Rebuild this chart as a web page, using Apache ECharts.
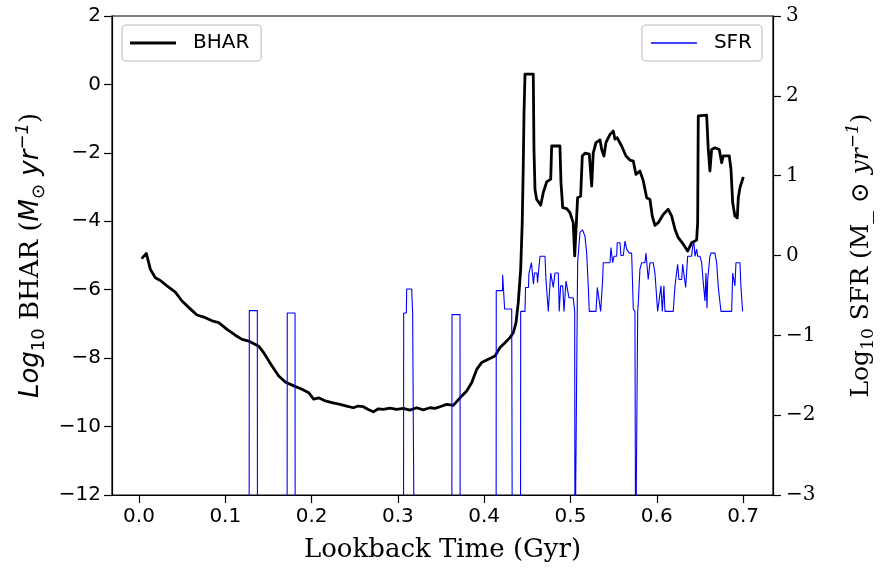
<!DOCTYPE html>
<html>
<head>
<meta charset="utf-8">
<script src="https://cdn.jsdelivr.net/npm/echarts@6/dist/echarts.min.js"></script>
<style>
html,body{margin:0;padding:0;background:#fff;}
#chart{width:880px;height:570px;}
</style>
</head>
<body>
<div id="chart"></div>
<script>
// ---- data ----
const xTickValues = [0.0, 0.1, 0.2, 0.3, 0.4, 0.5, 0.6, 0.7];

const bharTime = [0.003,0.0085,0.0131,0.0189,0.0247,0.0324,0.0421,0.0498,0.0594,0.0672,0.075,0.0846,0.0924,0.102,0.1116,0.1194,0.1271,0.1387,0.1445,0.1541,0.1619,0.1695,0.1793,0.1889,0.1966,0.2024,0.2082,0.2159,0.2236,0.2329,0.2406,0.2483,0.2541,0.2599,0.2657,0.2715,0.2773,0.2831,0.2908,0.2986,0.3063,0.314,0.3217,0.3294,0.3372,0.343,0.3488,0.3565,0.3642,0.372,0.3797,0.3855,0.3913,0.3971,0.4048,0.4125,0.4183,0.4241,0.4299,0.4337,0.4369,0.4395,0.4423,0.4441,0.4453,0.4461,0.4473,0.4569,0.4577,0.4589,0.4608,0.4655,0.4685,0.4724,0.4771,0.4782,0.4878,0.489,0.491,0.4956,0.4994,0.5032,0.5049,0.5072,0.5083,0.5118,0.5137,0.5168,0.5218,0.5246,0.5264,0.5296,0.5342,0.5362,0.5388,0.5411,0.5458,0.5496,0.5516,0.5542,0.5593,0.5643,0.5689,0.5728,0.5759,0.5805,0.5844,0.5883,0.5921,0.5948,0.5979,0.6017,0.6075,0.6133,0.6173,0.6211,0.6249,0.6307,0.6358,0.6404,0.6462,0.6474,0.6481,0.6578,0.6597,0.6616,0.6636,0.6674,0.6724,0.6752,0.6771,0.684,0.686,0.688,0.6906,0.6933,0.6945,0.6964,0.7003];
const bharValue = [-5.09,-4.94,-5.40,-5.65,-5.73,-5.89,-6.07,-6.33,-6.56,-6.74,-6.80,-6.91,-6.96,-7.16,-7.33,-7.45,-7.50,-7.65,-7.84,-8.23,-8.52,-8.70,-8.81,-8.91,-9.01,-9.20,-9.16,-9.25,-9.30,-9.35,-9.40,-9.45,-9.40,-9.42,-9.50,-9.57,-9.48,-9.50,-9.46,-9.50,-9.47,-9.52,-9.45,-9.51,-9.45,-9.47,-9.42,-9.35,-9.38,-9.16,-8.96,-8.72,-8.33,-8.13,-8.03,-7.94,-7.69,-7.55,-7.40,-7.26,-6.96,-6.38,-5.40,-4.04,-2.38,-0.92,0.30,0.30,-1.90,-3.07,-3.36,-3.53,-3.16,-2.85,-2.77,-1.80,-1.80,-2.87,-3.60,-3.63,-3.75,-4.04,-5.01,-3.85,-3.31,-3.26,-2.09,-2.01,-2.04,-2.97,-2.00,-1.70,-1.62,-1.90,-2.09,-1.70,-1.46,-1.36,-1.60,-1.56,-1.80,-2.09,-2.21,-2.24,-2.63,-2.53,-2.82,-3.31,-3.36,-3.85,-4.12,-4.04,-3.80,-3.65,-3.85,-4.23,-4.48,-4.67,-4.87,-4.63,-4.55,-4.04,-0.92,-0.90,-1.90,-2.53,-1.90,-1.85,-1.90,-2.29,-2.09,-2.09,-2.48,-3.46,-3.85,-3.90,-3.31,-3.02,-2.70];

// SFR: -4 marks values below the bottom of the right axis (drawn clipped)
const sfrTime = [0.003,0.1276,0.1278,0.1371,0.1373,0.1716,0.1718,0.1808,0.181,0.3065,0.3067,0.3098,0.3102,0.316,0.3171,0.3188,0.319,0.3625,0.3627,0.372,0.3722,0.4138,0.414,0.4212,0.4214,0.4226,0.4237,0.4319,0.4326,0.4421,0.4423,0.4473,0.4479,0.4513,0.4519,0.4542,0.4548,0.4565,0.4571,0.4583,0.4612,0.4618,0.4641,0.4647,0.4705,0.4716,0.4743,0.4771,0.4789,0.4801,0.482,0.4859,0.487,0.4886,0.491,0.4925,0.4948,0.4968,0.4983,0.5032,0.5049,0.5052,0.507,0.5083,0.511,0.5141,0.5168,0.5188,0.5206,0.5218,0.5296,0.5311,0.5334,0.535,0.5373,0.538,0.5458,0.5469,0.5489,0.5504,0.5535,0.5542,0.5574,0.5585,0.5612,0.5632,0.5651,0.567,0.5681,0.5709,0.5728,0.5747,0.5755,0.5777,0.5779,0.5786,0.5805,0.5825,0.5863,0.5875,0.589,0.5901,0.5921,0.5959,0.5979,0.5999,0.601,0.6029,0.6049,0.6064,0.6083,0.6095,0.6191,0.6211,0.6231,0.6242,0.6257,0.6289,0.63,0.6319,0.6335,0.6346,0.6358,0.6404,0.6416,0.6431,0.6443,0.6462,0.6474,0.6501,0.652,0.6539,0.655,0.6559,0.657,0.6582,0.659,0.6608,0.6616,0.6628,0.6674,0.6694,0.6713,0.6732,0.6744,0.6868,0.688,0.6898,0.6906,0.6918,0.6964,0.6976,0.6995];
const sfrValue = [-4,-4,-0.69,-0.69,-4,-4,-0.72,-0.72,-4,-4,-0.72,-0.72,-0.42,-0.42,-0.72,-0.72,-4,-4,-0.74,-0.74,-4,-4,-0.44,-0.44,-0.24,-0.24,-0.67,-0.67,-4,-4,-0.70,-0.70,-0.40,-0.40,-0.22,-0.22,-0.09,-0.09,-0.36,-0.22,-0.22,-0.34,-0.34,-0.01,-0.01,-0.30,-0.70,-0.22,-0.22,-0.40,-0.22,-0.22,-0.70,-0.38,-0.38,-0.70,-0.32,-0.32,-0.53,-0.53,-0.70,-4,-4,-0.09,0.29,0.32,0.24,0.03,-0.38,-0.70,-0.70,-0.40,-0.40,-0.70,-0.30,-0.09,-0.09,0.10,-0.09,-0.01,-0.01,0.16,0.16,0.00,0.00,0.18,0.08,0.10,0.03,0.03,-0.67,-0.70,-4,-4,-0.70,-0.59,-0.17,-0.09,-0.09,0.03,0.03,-0.30,-0.09,-0.09,-0.22,-0.22,-0.70,-0.70,-0.38,-0.70,-0.38,-0.70,-0.70,-0.38,-0.38,-0.11,-0.30,-0.30,-0.11,-0.11,-0.40,-0.40,-0.01,-0.01,0.12,0.16,-0.01,0.08,-0.01,-0.01,-0.09,-0.34,-0.34,-0.57,-0.22,-0.66,-0.30,-0.30,-0.01,0.03,0.03,-0.09,-0.40,-0.40,-0.70,-0.70,-0.22,-0.22,-0.38,-0.09,-0.09,-0.40,-0.70];

const zip = (a, b) => a.map((v, i) => [v, b[i]]);
const minus = v => (v < 0 ? '\u2212' + Math.abs(v) : String(v));

const chart = echarts.init(document.getElementById('chart'), null, {renderer: 'canvas'});

const SANS = 'DejaVu Sans';
const SERIF = 'DejaVu Serif';

chart.setOption({
  animation: false,
  backgroundColor: '#ffffff',
  grid: {left: 112, right: 107, top: 16, bottom: 75, containLabel: false, outerBoundsMode: 'none',
         show: true, borderColor: '#000', borderWidth: 1.2, backgroundColor: 'transparent'},
  legend: [
    {
      data: ['BHAR'], left: 122, top: 25, orient: 'horizontal',
      padding: [8, 12, 8, 8], itemWidth: 46, itemHeight: 3, icon: 'rect',
      borderColor: '#d0d0d0', borderWidth: 1.5, borderRadius: 4, backgroundColor: '#fff',
      textStyle: {fontFamily: SANS, fontSize: 20, color: '#000', padding: [0, 0, 0, 12]},
      selectedMode: false
    },
    {
      data: ['SFR'], right: 118, top: 25, orient: 'horizontal',
      padding: [8, 10, 8, 9], itemWidth: 46, itemHeight: 1.3, icon: 'rect',
      borderColor: '#d0d0d0', borderWidth: 1.5, borderRadius: 4, backgroundColor: '#fff',
      textStyle: {fontFamily: SANS, fontSize: 20, color: '#000', padding: [0, 0, 0, 12]},
      selectedMode: false
    }
  ],
  xAxis: {
    type: 'value', min: -0.0313, max: 0.7347,
    name: 'Lookback Time (Gyr)', nameLocation: 'middle', nameGap: 42,
    nameTextStyle: {fontFamily: SERIF, fontSize: 26, color: '#000'},
    axisLine: {show: true, onZero: false, lineStyle: {color: '#000', width: 1.2}},
    axisTick: {show: true, length: 8, inside: false, customValues: xTickValues, lineStyle: {color: '#000', width: 1.2}},
    axisLabel: {customValues: xTickValues, formatter: v => v.toFixed(1), fontFamily: SANS, fontSize: 20, color: '#000', margin: 12},
    splitLine: {show: false}
  },
  yAxis: [
    {
      type: 'value', min: -12, max: 2, interval: 2, position: 'left',
      name: '{i|Log}{s|10}{n| BHAR (}{i|M}{s|\u2299}{n| }{i|yr}{p|\u22121}{n|)}',
      nameLocation: 'middle', nameGap: 62, nameRotate: 90,
      nameTextStyle: {
        color: '#000',
        rich: {
          i: {fontFamily: SANS, fontStyle: 'italic', fontSize: 26, lineHeight: 34, color: '#000'},
          n: {fontFamily: SERIF, fontSize: 26, lineHeight: 34, color: '#000'},
          s: {fontFamily: SANS, fontSize: 18, lineHeight: 18, verticalAlign: 'bottom', color: '#000'},
          p: {fontFamily: SANS, fontStyle: 'italic', fontSize: 18, lineHeight: 18, verticalAlign: 'top', color: '#000'}
        }
      },
      axisLine: {show: true, onZero: false, lineStyle: {color: '#000', width: 1.2}},
      axisTick: {show: true, length: 8, inside: false, lineStyle: {color: '#000', width: 1.2}},
      axisLabel: {formatter: minus, fontFamily: SANS, fontSize: 20, color: '#000', margin: 11},
      splitLine: {show: false}
    },
    {
      type: 'value', min: -3, max: 3, interval: 1, position: 'right',
      name: '{n|Log}{s|10}{n| SFR (M_ \u2299 }{i|yr}{p|\u22121}{n|)}',
      nameLocation: 'middle', nameGap: 72, nameRotate: 90,
      nameTextStyle: {
        color: '#000',
        rich: {
          i: {fontFamily: SERIF, fontStyle: 'italic', fontSize: 25, lineHeight: 32, color: '#000'},
          n: {fontFamily: SERIF, fontSize: 25, lineHeight: 32, color: '#000'},
          s: {fontFamily: SERIF, fontSize: 17, lineHeight: 17, verticalAlign: 'bottom', color: '#000'},
          p: {fontFamily: SERIF, fontStyle: 'italic', fontSize: 17, lineHeight: 17, verticalAlign: 'top', color: '#000'}
        }
      },
      axisLine: {show: true, onZero: false, lineStyle: {color: '#000', width: 1.2}},
      axisTick: {show: true, length: 8, inside: false, lineStyle: {color: '#000', width: 1.2}},
      axisLabel: {formatter: minus, fontFamily: SERIF, fontSize: 20, color: '#000', margin: 13},
      splitLine: {show: false}
    }
  ],
  series: [
    {
      name: 'BHAR', type: 'line', yAxisIndex: 0, data: zip(bharTime, bharValue),
      showSymbol: false, symbol: 'none', clip: true, z: 2,
      lineStyle: {color: '#000', width: 2.8, join: 'round'},
      itemStyle: {color: '#000'}
    },
    {
      name: 'SFR', type: 'line', yAxisIndex: 1, data: zip(sfrTime, sfrValue),
      showSymbol: false, symbol: 'none', clip: true, z: 3,
      lineStyle: {color: '#0000ff', width: 1.1},
      itemStyle: {color: '#0000ff'}
    }
  ]
});
</script>
</body>
</html>
